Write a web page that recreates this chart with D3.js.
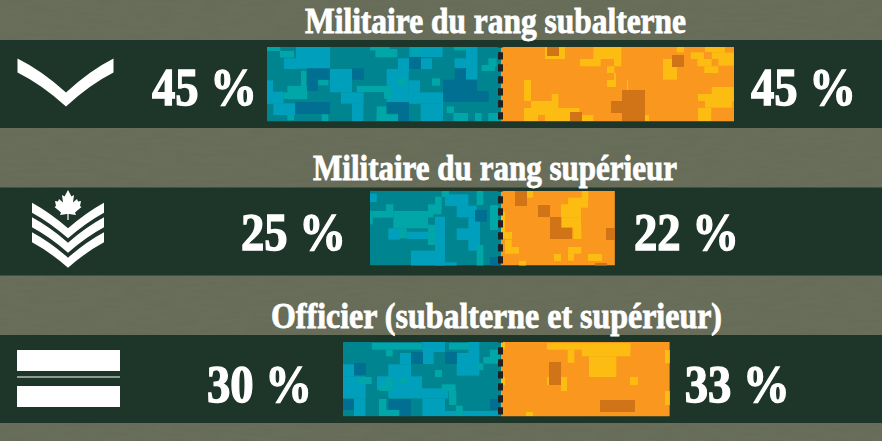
<!DOCTYPE html>
<html lang="fr">
<head>
<meta charset="utf-8">
<script src="https://cdn.jsdelivr.net/npm/d3@7"></script>
<style>
  html, body { margin: 0; padding: 0; background: #666c58; }
  svg { display: block; }
  text { font-family: "Liberation Serif", "DejaVu Serif", serif; font-weight: bold; fill: #fff; stroke: #fff; }
  .title { stroke-width: 0.8; }
  .value { stroke-width: 1.4; }
</style>
</head>
<body>
<div id="chart"></div>
<script>
const categories = ["Militaire du rang subalterne", "Militaire du rang supérieur", "Officier (subalterne et supérieur)"];
const leftLabels = [45, 25, 30];
const rightLabels = [45, 22, 33];
// bar lengths as measured, they stray a little from the printed labels
const leftValues = [45, 25.2, 30.4];
const rightValues = [45, 22, 32.6];

const colors = {
    bg: "#666c58", band: "#1e3529", dash: "#231f20",
    B: "#00848f", L: "#00a0bc", T: "#00a6a8", D: "#006f91",
    O: "#f9971e", Y: "#fdbc11", R: "#d17317"
};

// camouflage texture, [x, y, w, h, colour], in 3x pixels from each bar's corner crop
const camoLeft = [
  { origin: [260, 35], patches: [
    [108,36,102,65,"L"],[72,70,40,32,"L"],[210,102,66,70,"L"],[243,172,68,34,"L"],[276,205,34,53,"L"],[380,102,66,100,"L"],
    [414,70,34,40,"L"],[446,136,34,70,"L"],[380,172,170,33,"L"],[482,205,67,53,"L"],[482,70,34,32,"L"],[584,70,34,30,"L"],
    [618,36,34,98,"L"],[448,36,100,30,"L"],[21,136,18,70,"L"],[21,170,50,36,"L"],[40,205,66,35,"L"],
    [60,48,42,20,"T"],[21,36,40,12,"T"],[82,153,60,40,"T"],[123,108,16,50,"T"],[72,172,50,20,"T"],[175,135,30,16,"T"],
    [290,153,100,18,"T"],[372,153,22,38,"T"],[350,214,30,44,"T"],[350,238,64,20,"T"],[330,36,60,10,"T"],[346,42,66,25,"T"],
    [455,42,24,20,"T"],[516,130,24,22,"T"],[560,214,22,20,"T"],[580,234,44,24,"T"],[645,234,20,24,"T"],[685,234,40,24,"T"],
    [665,90,40,18,"T"],[685,70,25,25,"T"],[582,36,36,10,"T"],[82,240,20,16,"T"],[185,238,20,20,"T"],[412,130,24,20,"T"],
    [141,100,68,34,"D"],[141,134,32,34,"D"],[276,100,36,34,"D"],[447,66,36,36,"D"],[584,100,34,36,"D"],[549,134,102,38,"D"],
    [549,168,137,33,"D"],[106,201,104,36,"D"],[380,201,67,34,"D"],[414,235,33,23,"D"]
  ]},
  { origin: [360, 185], patches: [
    [255,28,70,35,"L"],[290,62,60,35,"L"],[225,95,30,148,"L"],[290,130,70,35,"L"],[325,97,35,100,"L"],[85,130,35,34,"L"],
    [140,140,64,22,"L"],[153,197,72,46,"L"],[225,232,65,11,"L"],[30,26,20,25,"L"],
    [100,78,120,52,"T"],[38,78,62,20,"T"],[204,58,40,30,"T"],[225,35,20,40,"T"],[245,18,22,18,"T"],[78,58,22,24,"T"],
    [30,78,8,40,"T"],[120,130,20,30,"T"],[204,120,22,60,"T"],[350,18,20,42,"T"],[350,180,20,63,"T"],[390,60,25,75,"T"],
    [204,97,18,22,"B"],[345,75,36,35,"D"],[390,216,33,27,"D"]
  ]},
  { origin: [335, 335], patches: [
    [24,88,33,36,"L"],[24,124,68,66,"L"],[57,190,34,53,"L"],[160,88,68,80,"L"],[195,54,34,34,"L"],[126,124,135,40,"L"],
    [160,160,180,30,"L"],[262,21,68,30,"L"],[264,51,32,36,"L"],[365,54,68,68,"L"],[400,21,33,33,"L"],[262,190,68,53,"L"],
    [330,228,165,15,"L"],
    [111,24,150,20,"T"],[153,44,20,20,"T"],[342,24,60,20,"T"],[445,66,50,20,"T"],[465,44,30,22,"T"],[425,85,20,20,"T"],
    [300,105,21,21,"T"],[70,126,40,21,"T"],[132,150,40,18,"T"],[153,126,20,40,"T"],[195,126,20,20,"T"],[320,148,42,20,"T"],
    [342,168,22,42,"T"],[132,192,22,50,"T"],[132,225,60,18,"T"],[363,212,20,30,"T"],
    [228,51,36,36,"D"],[330,51,36,36,"D"],[57,84,36,36,"D"],[24,192,33,33,"D"],[160,192,68,33,"D"],[195,225,33,18,"D"],[465,192,30,33,"D"]
  ]}
];
const camoRight = [
  { origin: [490, 35], patches: [
    [165,36,60,36,"Y"],[310,36,84,36,"Y"],[270,72,62,22,"Y"],[372,72,22,22,"Y"],[351,94,22,20,"Y"],[351,135,27,21,"Y"],
    [372,114,6,30,"Y"],[411,135,3,30,"Y"],[519,72,42,62,"Y"],[560,36,22,16,"Y"],[645,36,60,16,"Y"],[602,52,40,20,"Y"],
    [665,52,66,40,"Y"],[622,72,44,22,"Y"],[643,94,42,20,"Y"],[102,135,21,63,"Y"],[123,198,82,60,"Y"],[185,177,20,30,"Y"],
    [102,219,166,39,"Y"],[276,240,34,18,"Y"],[465,240,12,18,"Y"],[665,156,66,40,"Y"],[624,177,107,21,"Y"],[645,198,82,20,"Y"],
    [624,219,40,39,"Y"],
    [665,240,66,18,"O"],[706,219,25,21,"O"],[144,240,21,18,"O"],[706,36,25,16,"O"],[643,52,22,20,"O"],[665,72,20,20,"O"],
    [171,36,36,27,"R"],[546,60,36,36,"R"],[396,165,69,93,"R"],[363,198,36,36,"R"],[240,231,36,27,"R"]
  ]},
  { origin: [360, 185], patches: [
    [501,18,18,20,"Y"],[665,18,20,30,"Y"],[624,38,60,30,"Y"],[603,58,60,40,"Y"],[603,98,60,30,"Y"],[640,120,24,42,"Y"],
    [435,141,21,22,"Y"],[435,165,20,40,"Y"],[435,186,42,20,"Y"],[624,186,40,20,"Y"],[624,205,18,22,"Y"],[582,207,21,21,"Y"],
    [684,207,42,21,"Y"],[477,228,21,15,"Y"],[423,80,12,80,"Y"],
    [465,18,36,45,"R"],[534,60,36,36,"R"],[570,96,34,66,"R"],[570,128,66,34,"R"],[738,129,27,36,"R"],[705,234,36,9,"R"]
  ]},
  { origin: [335, 335], patches: [
    [636,24,250,20,"Y"],[740,24,146,40,"Y"],[762,64,82,62,"Y"],[698,44,20,40,"Y"],[678,126,18,42,"Y"],[885,126,24,24,"Y"],
    [990,45,15,40,"Y"],[990,168,15,42,"Y"],[573,231,21,12,"Y"],[636,126,6,24,"Y"],[495,126,15,24,"Y"],[495,21,15,20,"Y"],
    [642,81,36,69,"R"],[795,195,105,36,"R"]
  ]}
];

const width = 882, height = 441,
      center = 501, barHeight = 74.5;

// per-row layout, the original is hand placed so these are not regular
const titleWidths = [381, 364, 451],
      titleCenters = [495.5, 495, 496.5],
      barInsets = [7, 3.5, 7],
      leftGaps = [10, 24, 31],
      rightGaps = [17, 19, 15],
      labelDrops = [65, 62.5, 66.5];

const svg = d3.select("#chart").append("svg")
    .attr("width", width)
    .attr("height", height)
    .attr("viewBox", [0, 0, width, height]);

// subtle grain for the background
let grain = svg.append("defs").append("filter").attr("id", "grain");
grain.append("feTurbulence").attr("type", "fractalNoise").attr("baseFrequency", "0.04 0.3").attr("numOctaves", 3).attr("seed", 4);
grain.append("feColorMatrix").attr("values", "0 0 0 0 0.25  0 0 0 0 0.28  0 0 0 0 0.2  0 0 0 0.14 -0.04");
svg.append("rect").attr("width", width).attr("height", height).attr("fill", colors.bg);
svg.append("rect").attr("width", width).attr("height", height).attr("filter", "url(#grain)");

let y = d3.scaleBand()
    .domain(categories)
    .range([40, 423])
    .paddingInner(1 - 88 / 147.5);

let xLeft = d3.scaleLinear().domain([0, 45]).range([center, 267]);
let xRight = d3.scaleLinear().domain([0, 45]).range([center, 734]);

let row = svg.selectAll(".row")
    .data(categories)
    .join("g")
    .attr("class", "row");

row.append("rect")
    .attr("x", 0)
    .attr("width", width)
    .attr("y", d => y(d))
    .attr("height", y.bandwidth())
    .attr("fill", colors.band);

row.append("text")
    .attr("class", "title")
    .text(d => d)
    .attr("x", (d, i) => titleCenters[i])
    .attr("y", d => y(d) - 7.5)
    .attr("text-anchor", "middle")
    .attr("font-size", 35)
    .attr("textLength", (d, i) => titleWidths[i])
    .attr("lengthAdjust", "spacingAndGlyphs");

function drawBar(sel, i, value, scale, base, camo, key) {
    let x0 = Math.min(scale(0), scale(value)),
        w = Math.abs(scale(value) - scale(0)),
        top = y(categories[i]) + barInsets[i];
    svg.select("defs").append("clipPath").attr("id", `clip-${key}-${i}`)
        .append("rect").attr("x", x0).attr("y", top).attr("width", w).attr("height", barHeight);
    let g = sel.append("g").attr("clip-path", `url(#clip-${key}-${i})`);
    g.append("rect")
        .attr("x", x0).attr("y", top).attr("width", w).attr("height", barHeight)
        .attr("fill", base);
    g.append("g")
        .attr("transform", `translate(${camo.origin}) scale(${1 / 3})`)
        .selectAll("rect")
        .data(camo.patches)
        .join("rect")
        .attr("x", d => d[0]).attr("y", d => d[1])
        .attr("width", d => d[2]).attr("height", d => d[3])
        .attr("fill", d => colors[d[4]]);
}

row.each(function (d, i) {
    let sel = d3.select(this);
    drawBar(sel, i, leftValues[i], xLeft, colors.B, camoLeft[i], "l");
    drawBar(sel, i, rightValues[i], xRight, colors.O, camoRight[i], "r");

    // dashed line between the two bars
    sel.append("line")
        .attr("x1", center - 0.5).attr("x2", center - 0.5)
        .attr("y1", y(d) + barInsets[i]).attr("y2", y(d) + barInsets[i] + barHeight)
        .attr("stroke", colors.dash)
        .attr("stroke-width", 5)
        .attr("stroke-dasharray", "7.3 4.7")
        .attr("stroke-dashoffset", 6.7);

    sel.append("text")
        .attr("class", "value")
        .text(`${leftLabels[i]} %`)
        .attr("x", xLeft(leftValues[i]) - leftGaps[i])
        .attr("y", y(d) + labelDrops[i])
        .attr("text-anchor", "end")
        .attr("font-size", 53)
        .attr("textLength", 105)
        .attr("lengthAdjust", "spacingAndGlyphs");

    sel.append("text")
        .attr("class", "value")
        .text(`${rightLabels[i]} %`)
        .attr("x", xRight(rightValues[i]) + rightGaps[i])
        .attr("y", y(d) + labelDrops[i])
        .attr("font-size", 53)
        .attr("textLength", 105)
        .attr("lengthAdjust", "spacingAndGlyphs");
});

// rank insignia
const icons = svg.append("g").attr("fill", "#fff");
const chevron = (x0, xm, x1, top, tip, th, bow) => {
    let c = (top + tip) / 2 - bow, cl = (x0 + xm) / 2, cr = (x1 + xm) / 2;
    return `M${x0},${top} Q${cl},${c} ${xm},${tip} Q${cr},${c} ${x1},${top} L${x1},${top + th} Q${cr},${c + th} ${xm},${tip + th} Q${cl},${c + th} ${x0},${top + th} Z`;
};
icons.append("path").attr("d", chevron(17.5, 66, 113.5, 58.5, 92.5, 14, 5));
[[202.7, 228.3], [217.3, 242.7], [232.3, 257.7]].forEach(c => {
    icons.append("path").attr("d", chevron(32, 68, 104, c[0], c[1], 10, 3));
});
// maple leaf
icons.append("path").attr("transform", "translate(68,205)")
    .attr("d", "M0,-15 L3.5,-8.5 L6,-10 L5,-2.5 L9,-6 L10,-3.5 L13,-4 L12,1 L13.5,2 L7,7.5 L8,10 L1,9 L0.6,9 L0.6,15 L-0.6,15 L-0.6,9 L-1,9 L-8,10 L-7,7.5 L-13.5,2 L-12,1 L-13,-4 L-10,-3.5 L-9,-6 L-5,-2.5 L-6,-10 L-3.5,-8.5 Z");
icons.append("rect").attr("x", 17).attr("y", 350).attr("width", 103).attr("height", 21);
icons.append("rect").attr("x", 17).attr("y", 376.5).attr("width", 103).attr("height", 1);
icons.append("rect").attr("x", 17).attr("y", 386).attr("width", 103).attr("height", 21);
</script>
</body>
</html>
